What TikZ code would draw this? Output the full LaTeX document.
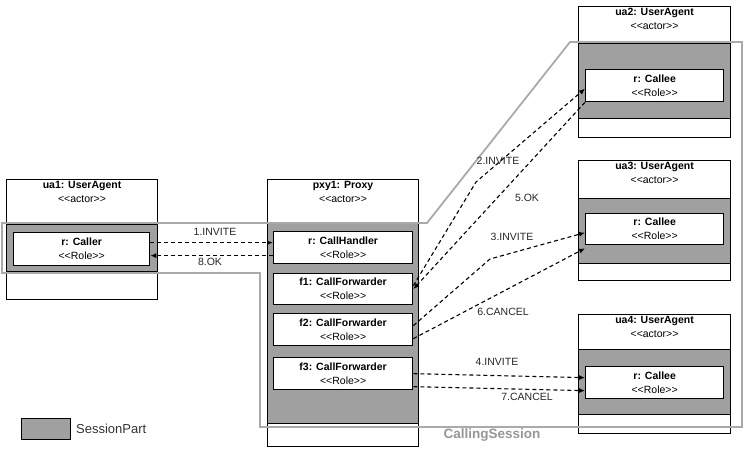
\documentclass[tikz,border=0pt]{standalone}
\usepackage{fontspec}
\setmainfont{Liberation Sans}
\usetikzlibrary{arrows.meta}
\definecolor{sessgray}{RGB}{160,160,160}
\definecolor{outlinegray}{RGB}{170,170,170}
\definecolor{csgray}{RGB}{150,150,150}
\newcommand\stereo[1]{<\kern0pt<#1>\kern0pt>}
\begin{document}
\begin{tikzpicture}[x=1pt,y=-1pt,
 every node/.style={font=\fontsize{10.5}{14}\selectfont},
 actorbox/.style={draw, line width=1.1pt, fill=white, anchor=north west, inner sep=0pt},
 sessbox/.style={draw, line width=1.1pt, fill=sessgray, anchor=north west, inner sep=0pt},
 rolebox/.style={draw, line width=1.3pt, fill=white, anchor=north west, inner sep=0pt, align=center},
 header/.style={anchor=north, align=center, inner sep=2pt},
 msg/.style={draw, dash pattern=on 4pt off 3pt, line width=1.1pt, -{Latex[length=6pt,width=5pt]}},
 msglabel/.style={inner sep=1pt, text=black!85},
 session/.style={draw=outlinegray, line width=1.8pt},
]
\useasboundingbox (0,0) rectangle (744,448);

% ua1
\node[actorbox, minimum width=151pt, minimum height=120pt] (ua1) at (6,179) {};
\node[sessbox, minimum width=151pt, minimum height=47pt] (ua1s) at (6,224) {};
\node[rolebox, minimum width=136pt, minimum height=33pt] (caller) at (13,232) {\textbf{r: Caller}\\\stereo{Role}};
\node[header] (ua1h) at (ua1.north) {\textbf{ua1: UserAgent}\\\stereo{actor}};

% pxy1
\node[actorbox, minimum width=151pt, minimum height=267pt] (pxy1) at (267,179) {};
\node[sessbox, minimum width=151pt, minimum height=200pt] (pxy1s) at (267,223) {};
\node[rolebox, minimum width=139pt, minimum height=32pt] (chand) at (273,231) {\textbf{r: CallHandler}\\\stereo{Role}};
\node[rolebox, minimum width=139pt, minimum height=31pt] (f1) at (273,273) {\textbf{f1: CallForwarder}\\\stereo{Role}};
\node[rolebox, minimum width=139pt, minimum height=32pt] (f2) at (273,313) {\textbf{f2: CallForwarder}\\\stereo{Role}};
\node[rolebox, minimum width=139pt, minimum height=32pt] (f3) at (273,357) {\textbf{f3: CallForwarder}\\\stereo{Role}};
\node[header] (pxy1h) at (pxy1.north) {\textbf{pxy1: Proxy}\\\stereo{actor}};

% ua2
\node[actorbox, minimum width=152pt, minimum height=131pt] (ua2) at (578,6) {};
\node[sessbox, minimum width=152pt, minimum height=75pt] (ua2s) at (578,43) {};
\node[rolebox, minimum width=138pt, minimum height=32pt] (callee2) at (585,69) {\textbf{r: Callee}\\\stereo{Role}};
\node[header] (ua2h) at (ua2.north) {\textbf{ua2: UserAgent}\\\stereo{actor}};

% ua3
\node[actorbox, minimum width=152pt, minimum height=120pt] (ua3) at (578,160) {};
\node[sessbox, minimum width=152pt, minimum height=65pt] (ua3s) at (578,198) {};
\node[rolebox, minimum width=138pt, minimum height=31pt] (callee3) at (585,213) {\textbf{r: Callee}\\\stereo{Role}};
\node[header] (ua3h) at (ua3.north) {\textbf{ua3: UserAgent}\\\stereo{actor}};

% ua4
\node[actorbox, minimum width=152pt, minimum height=119pt] (ua4) at (578,314) {};
\node[sessbox, minimum width=152pt, minimum height=65pt] (ua4s) at (578,349) {};
\node[rolebox, minimum width=138pt, minimum height=32pt] (callee4) at (585,366) {\textbf{r: Callee}\\\stereo{Role}};
\node[header] (ua4h) at (ua4.north) {\textbf{ua4: UserAgent}\\\stereo{actor}};

% CallingSession outline
\draw[session] (2,223) -- (427,223) -- (570,42) -- (742,42) -- (742,427) -- (260,427) -- (260,273) -- (2,273) -- cycle;
\node[font=\bfseries\fontsize{13.5}{16}\selectfont, text=csgray] (cslabel) at (492,435) {CallingSession};

% messages
\draw[msg] ([yshift=6.5pt]caller.east) -- ([yshift=6.5pt]caller.east -| chand.west);
\draw[msg] ([yshift=-8pt]chand.west) -- ([yshift=-8pt]chand.west -| caller.east);
\draw[msg] ([yshift=3.5pt]f1.east) -- (476,182) -- ([yshift=-3pt]callee2.west);
\draw[msg] (callee2.south west) -- (f1.east);
\draw[msg] ([yshift=4pt]f2.east) -- (490,259) -- ([yshift=-3.5pt]callee3.west);
\draw[msg] ([yshift=-9pt]f2.east) -- ([yshift=-3pt]callee3.south west);
\draw[msg] (f3.east) -- ([yshift=5pt]callee4.west);
\draw[msg] ([yshift=-13pt]f3.east) -- ([yshift=-8pt]callee4.west);

\node[msglabel] (l1) at (215,232) {1.INVITE};
\node[msglabel] (l8) at (210,262) {8.OK};
\node[msglabel] (l2) at (498,161) {2.INVITE};
\node[msglabel] (l5) at (527,198) {5.OK};
\node[msglabel] (l3) at (512,237) {3.INVITE};
\node[msglabel] (l6) at (503,312) {6.CANCEL};
\node[msglabel] (l4) at (497,362) {4.INVITE};
\node[msglabel] (l7) at (527,397) {7.CANCEL};

% legend
\node[sessbox, minimum width=49pt, minimum height=21pt] (legend) at (21,418) {};
\node[anchor=west, inner sep=0pt, font=\fontsize{13}{15}\selectfont, text=black!80] (legendtxt) at (76,428.5) {SessionPart};
\end{tikzpicture}
\end{document}
